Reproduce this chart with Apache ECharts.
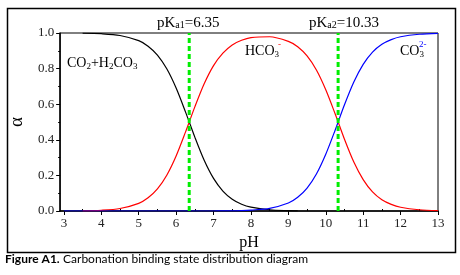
<!DOCTYPE html>
<html>
<head>
<meta charset="utf-8">
<script src="https://cdn.jsdelivr.net/npm/echarts@6/dist/echarts.min.js"></script>
<style>
  html, body { margin: 0; padding: 0; background: #fff; }
  #chart { width: 460px; height: 275px; }
</style>
</head>
<body>
<div id="chart"></div>
<script>
// pH 取值点
var phList = [3, 3.5, 4, 4.5, 5, 5.25, 5.5, 5.75, 6, 6.25, 6.5, 6.75, 7, 7.25, 7.5, 7.75, 8, 8.5, 9, 9.25, 9.5, 9.75, 10, 10.25, 10.5, 10.75, 11, 11.25, 11.5, 11.75, 12, 12.5, 13];
// CO2+H2CO3
var h2co3 = [null, 0.999, 0.996, 0.986, 0.957, 0.926, 0.876, 0.799, 0.691, 0.557, 0.415, 0.285, 0.183, 0.112, 0.066, 0.038, 0.022, 0.007, 0.002, 0.001, null, null, null, null, null, null, null, null, null, null, null, null, null];
// HCO3-
var hco3 = [null, 0.001, 0.004, 0.014, 0.043, 0.074, 0.124, 0.201, 0.309, 0.443, 0.585, 0.715, 0.817, 0.887, 0.933, 0.959, 0.974, 0.979, 0.953, 0.923, 0.871, 0.792, 0.681, 0.546, 0.403, 0.275, 0.176, 0.107, 0.063, 0.037, 0.021, 0.007, 0.002];
// CO3 2-
var co3 = [0, 0, 0, 0, 0, 0, 0, 0, 0, 0, 0, 0, 0, 0.001, 0.001, 0.002, 0.005, 0.015, 0.045, 0.077, 0.129, 0.208, 0.319, 0.454, 0.597, 0.725, 0.824, 0.893, 0.937, 0.963, 0.979, 0.993, 0.998];
var pKa = [6.35, 10.33];
var xTicks = [3, 4, 5, 6, 7, 8, 9, 10, 11, 12, 13];
var xMinor = [3.5, 4.5, 5.5, 6.5, 7.5, 8.5, 9.5, 10.5, 11.5, 12.5];

var serif = 'Liberation Serif';

function pairs(ys) {
  var out = [];
  for (var i = 0; i < phList.length; i++) {
    if (ys[i] !== null) out.push([phList[i], ys[i]]);
  }
  return out;
}

var chart = echarts.init(document.getElementById('chart'), null, { renderer: 'canvas' });

// 下标用的富文本
function richOf(color, size, subSize) {
  return {
    n: { fontFamily: serif, fontSize: size, color: color, lineHeight: size, verticalAlign: 'top' },
    s: { fontFamily: serif, fontSize: subSize, color: color, lineHeight: subSize, padding: [size * 0.55, 0, 0, 0], verticalAlign: 'bottom' }
  };
}

var option = {
  animation: false,
  grid: {
    left: 57, top: 33, right: 22, bottom: 64,
    show: true, borderColor: '#000', borderWidth: 1
  },
  xAxis: [{
    type: 'value', min: 2.9, max: 13,
    name: 'pH', nameLocation: 'middle', nameGap: 19,
    nameTextStyle: { fontFamily: serif, fontSize: 16, color: '#000' },
    splitLine: { show: false },
    axisLine: { show: true, onZero: false, lineStyle: { color: '#000', width: 1.5 } },
    axisTick: { show: true, inside: false, length: 4, customValues: xTicks, lineStyle: { color: '#000' } },
    axisLabel: { customValues: xTicks, margin: 6, fontFamily: serif, fontSize: 13, color: '#222' }
  }, {
    type: 'value', min: 2.9, max: 13, position: 'bottom',
    splitLine: { show: false },
    axisLine: { show: false },
    axisTick: { show: true, inside: true, length: 2, customValues: xMinor, lineStyle: { color: '#000' } },
    axisLabel: { show: false }
  }],
  yAxis: {
    type: 'value', min: 0, max: 1, interval: 0.2,
    name: 'α', nameLocation: 'middle', nameGap: 33, nameRotate: 90,
    nameTextStyle: { fontFamily: serif, fontSize: 19, color: '#000' },
    splitLine: { show: false },
    axisLine: { show: true, lineStyle: { color: '#000', width: 1.5 } },
    axisTick: { show: true, inside: false, length: 4, lineStyle: { color: '#000' } },
    minorTick: { show: true, splitNumber: 2, length: 2, lineStyle: { color: '#000' } },
    axisLabel: {
      margin: 6, fontFamily: serif, fontSize: 13, color: '#222',
      formatter: function (v) { return v.toFixed(1); }
    }
  },
  series: [{
    name: 'CO2+H2CO3', type: 'line', data: pairs(h2co3), showSymbol: false, smooth: 0.3,
    lineStyle: { color: '#000', width: 1.2 }
  }, {
    name: 'HCO3-', type: 'line', data: pairs(hco3), showSymbol: false, smooth: 0.3,
    lineStyle: { color: '#ff0000', width: 1.2 }
  }, {
    name: 'CO3 2-', type: 'line', data: pairs(co3), showSymbol: false, smooth: 0.3,
    lineStyle: { color: '#0000ff', width: 1.2 }
  }, {
    name: 'pKa1', type: 'line', data: [[pKa[0], 0], [pKa[0], 1]], showSymbol: false,
    lineStyle: { color: '#00ee00', width: 3, type: [5, 3] }, z: 5
  }, {
    name: 'pKa2', type: 'line', data: [[pKa[1], 0], [pKa[1], 1]], showSymbol: false,
    lineStyle: { color: '#00ee00', width: 3, type: [5, 3] }, z: 5
  }],
  graphic: [{
    // 外框
    type: 'rect', left: 5, top: 6, silent: true,
    shape: { width: 448, height: 244 },
    style: { fill: 'none', stroke: '#000', lineWidth: 1.5 }
  }, {
    type: 'text', left: 157, top: 12,
    style: { text: '{n|pK}{s|a1}{n|=6.35}', rich: richOf('#000', 15, 10) }
  }, {
    type: 'text', left: 309, top: 12,
    style: { text: '{n|pK}{s|a2}{n|=10.33}', rich: richOf('#000', 15, 10) }
  }, {
    type: 'text', left: 67, top: 54,
    style: { text: '{n|CO}{s|2}{n|+H}{s|2}{n|CO}{s|3}', rich: richOf('#000', 14, 9) }
  }, {
    type: 'text', left: 245, top: 42,
    style: { text: '{n|HCO}{s|3}', rich: richOf('#ff0000', 14, 9) }
  }, {
    type: 'text', left: 278, top: 40,
    style: { text: '-', font: '9px ' + serif, fill: '#ff0000' }
  }, {
    type: 'text', left: 400, top: 42,
    style: { text: '{n|CO}{s|3}', rich: richOf('#0000ff', 14, 9) }
  }, {
    type: 'text', left: 419, top: 40,
    style: { text: '2-', font: '9px ' + serif, fill: '#0000ff' }
  }, {
    type: 'text', left: 5, top: 253,
    style: {
      text: '{b|Figure A1.} {r|Carbonation binding state distribution diagram}',
      rich: {
        b: { fontFamily: 'Lato', fontWeight: 'bold', fontSize: 12, color: '#111' },
        r: { fontFamily: 'Lato', fontSize: 12, color: '#111' }
      }
    }
  }]
};

chart.setOption(option);
</script>
</body>
</html>
